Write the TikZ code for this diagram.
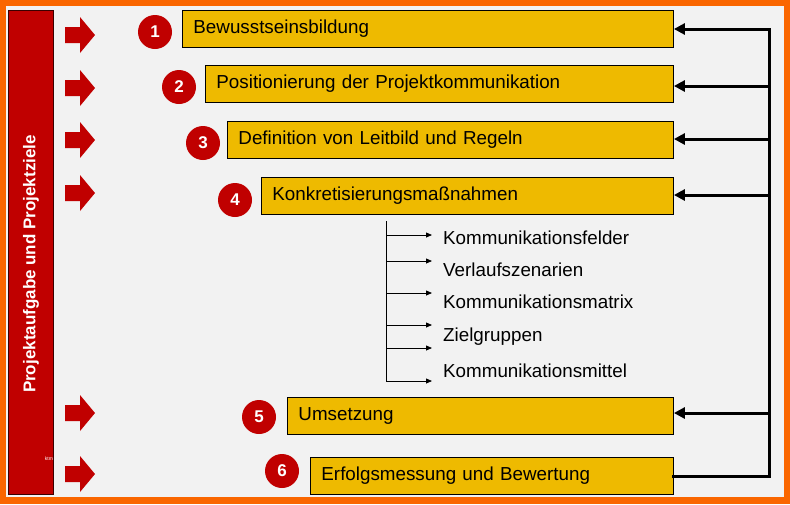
\documentclass[tikz,border=0pt]{standalone}
\usepackage{fontspec}
\setmainfont{Liberation Sans}
\usetikzlibrary{arrows.meta}
\definecolor{frameorange}{RGB}{250,102,0}
\definecolor{bgray}{RGB}{242,242,242}
\definecolor{dred}{RGB}{192,0,0}
\definecolor{byellow}{RGB}{238,186,0}
\tikzset{
  stepbox/.style={draw=black, line width=0.9pt, fill=byellow, anchor=north west, minimum height=37pt, inner xsep=11pt, text=black, font=\fontsize{18.8}{21}\selectfont, align=left},
  numcirc/.style={circle, fill=dred, minimum size=34pt, inner sep=0pt, text=white, font=\fontsize{17}{20}\selectfont\bfseries},
  fb/.style={line width=3pt, draw=black},
  fbarrow/.style={fb, -{Triangle[length=11pt,width=11pt]}},
  subarrow/.style={line width=0.8pt, -{Triangle[length=6pt,width=5pt]}},
  sublabel/.style={anchor=west, font=\fontsize{18.8}{21}\selectfont, inner sep=0pt},
}
\newcommand\blockarrow[1]{\fill[dred] (65,{#1-8}) -- (80,{#1-8}) -- (80,{#1-18}) -- (95,#1) -- (80,{#1+18}) -- (80,{#1+8}) -- (65,{#1+8}) -- cycle;}
\begin{document}
\begin{tikzpicture}[x=1pt,y=-1pt]
\useasboundingbox (0,0) rectangle (790,504);
\fill[frameorange] (0,0) rectangle (790,504);
\fill[bgray] (6,6) rectangle (784,497);
% left bar
\node[draw=black!70!dred, line width=0.8pt, fill=dred, minimum width=45pt, minimum height=484pt, inner sep=0pt] (bar) at (30.5,252) {};
\node[rotate=90, text=white, font=\fontsize{17}{20}\selectfont\bfseries, inner sep=0pt] (bartext) at (31,264) {Projektaufgabe und Projektziele};
\node[text=white, font=\fontsize{5}{6}\selectfont, inner sep=0pt] (wm) at (49,459) {ktm};
% block arrows
\blockarrow{35}
\blockarrow{88}
\blockarrow{140}
\blockarrow{193}
\blockarrow{413}
\blockarrow{474}
% boxes (text width = box width - 22pt)
\node[stepbox, text width=469pt] (b1) at (182,10) {Bewusstseinsbildung};
\node[stepbox, text width=446pt] (b2) at (205,65) {Positionierung der Projektkommunikation};
\node[stepbox, text width=424pt] (b3) at (227,121) {Definition von Leitbild und Regeln};
\node[stepbox, text width=390pt] (b4) at (261,177) {Konkretisierungsmaßnahmen};
\node[stepbox, text width=364pt] (b5) at (287,397) {Umsetzung};
\node[stepbox, text width=341pt] (b6) at (310,457) {Erfolgsmessung und Bewertung};
% circles
\node[numcirc] (c1) at (155,32) {1};
\node[numcirc] (c2) at (179,87) {2};
\node[numcirc] (c3) at (203,143) {3};
\node[numcirc] (c4) at (235,200) {4};
\node[numcirc] (c5) at (259,417) {5};
\node[numcirc] (c6) at (282,471) {6};
% feedback loop
\coordinate (v1) at (769,29);
\coordinate (v2) at (769,86);
\coordinate (v3) at (769,139);
\coordinate (v4) at (769,195);
\coordinate (v5) at (769,413);
\coordinate (v6) at (769,476);
\draw[fb, line cap=rect] (b6.east |- v6) -- (v6) -- (v1);
\draw[fbarrow] (v1) -- (b1.east |- v1);
\draw[fbarrow] (v2) -- (b2.east |- v2);
\draw[fbarrow] (v3) -- (b3.east |- v3);
\draw[fbarrow] (v4) -- (b4.east |- v4);
\draw[fbarrow] (v5) -- (b5.east |- v5);
% sub list
\coordinate (st) at (386,221);
\coordinate (sb) at (386,382);
\draw[line width=0.8pt] (st) -- (sb);
\node[sublabel] (s1) at (443,238) {Kommunikationsfelder};
\node[sublabel] (s2) at (443,270) {Verlaufszenarien};
\node[sublabel] (s3) at (443,302) {Kommunikationsmatrix};
\node[sublabel] (s4) at (443,337) {Zielgruppen};
\node[sublabel] (s5) at (443,371) {Kommunikationsmittel};
\coordinate (a1) at (386,235);
\coordinate (a2) at (386,261);
\coordinate (a3) at (386,293);
\coordinate (a4) at (386,325);
\coordinate (a5) at (386,348);
\coordinate (a6) at (386,381);
\foreach \i in {1,...,6} { \draw[subarrow] (a\i) -- ++(46,0) coordinate (e\i); }
\end{tikzpicture}
\end{document}
